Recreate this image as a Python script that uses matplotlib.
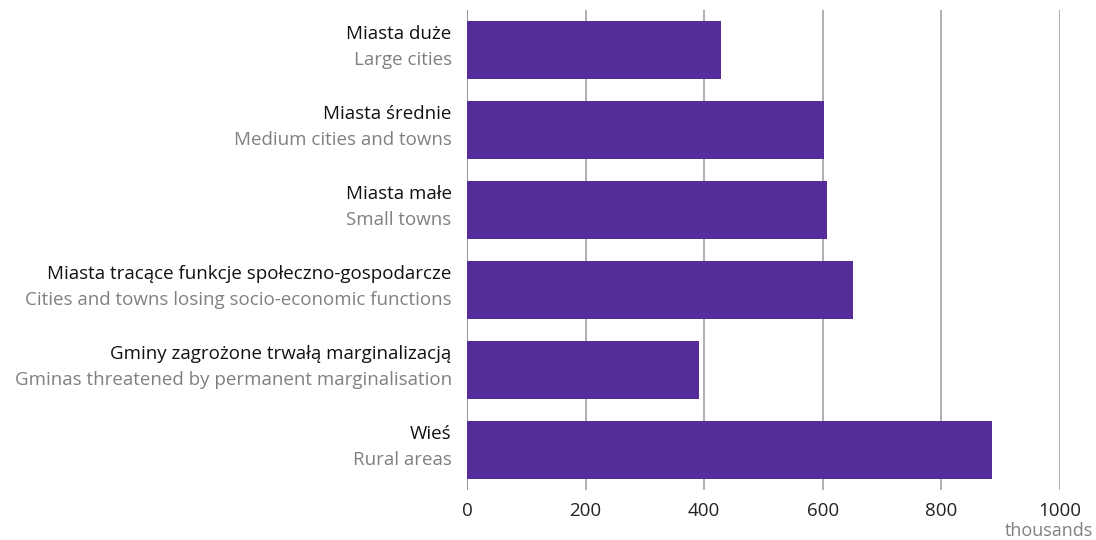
import numpy as np
import matplotlib.pyplot as plt

plt.rcParams['font.family'] = ['Open Sans', 'DejaVu Sans']

labels_pl = ['Miasta duże', 'Miasta średnie', 'Miasta małe',
             'Miasta tracące funkcje społeczno-gospodarcze',
             'Gminy zagrożone trwałą marginalizacją', 'Wieś']
labels_en = ['Large cities', 'Medium cities and towns', 'Small towns',
             'Cities and towns losing socio-economic functions',
             'Gminas threatened by permanent marginalisation', 'Rural areas']
values = [428, 602, 607, 651, 391, 885]
ticks = [0, 200, 400, 600, 800, 1000]

fig = plt.figure(figsize=(10.96, 5.4), dpi=100)
ax = fig.add_axes([467/1096, 50/540, 593/1096, 480/540])

y = np.arange(len(values))
ax.barh(y, values, height=0.725, color='#552d9a', zorder=2)
ax.set_ylim(len(values) - 0.5, -0.5)
ax.set_xlim(0, 1000)

for t in ticks:
    ax.axvline(t, color='#777777' if t == 0 else '#9a9a9a', lw=1.1, zorder=1)

for s in ax.spines.values():
    s.set_visible(False)
ax.set_yticks([])
ax.set_xticks(ticks)
ax.set_xticklabels([str(t) for t in ticks], fontsize=13.5, color='#222222')
ax.tick_params(axis='x', length=0, pad=9)

for i in y:
    ax.annotate(labels_pl[i], (0, i), xytext=(-11, 11.5), textcoords='offset points',
                ha='right', va='center', fontsize=13.5, color='#111111')
    ax.annotate(labels_en[i], (0, i), xytext=(-11, -7.5), textcoords='offset points',
                ha='right', va='center', fontsize=13.5, color='#808080')

fig.text(1093/1096, 1 - 531/540, 'thousands', ha='right', va='center',
         fontsize=13, color='#808080')

fig.savefig('out.png', dpi=100)
